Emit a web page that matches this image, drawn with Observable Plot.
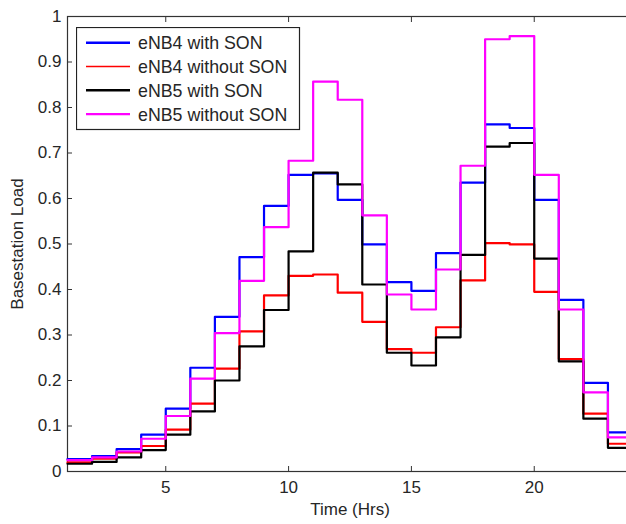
<!DOCTYPE html>
<html>
<head>
<meta charset="utf-8">
<script src="https://cdn.jsdelivr.net/npm/d3@7"></script>
<script src="https://cdn.jsdelivr.net/npm/@observablehq/plot@0.6"></script>
<style>
  html, body { margin: 0; padding: 0; background: white; overflow: hidden; }
  #wrap { position: relative; width: 626px; height: 524px; overflow: hidden; }
  #legend { position: absolute; left: 76px; top: 27px; }
</style>
</head>
<body>
<div id="wrap"></div>
<script>
// ---- data ----
const hours = [1,2,3,4,5,6,7,8,9,10,11,12,13,14,15,16,17,18,19,20,21,22,23,24];
const eNB4WithSON    = [0.027,0.034,0.049,0.081,0.138,0.228,0.340,0.471,0.584,0.652,0.655,0.597,0.499,0.416,0.397,0.480,0.635,0.763,0.755,0.597,0.377,0.195,0.086,0.086];
const eNB4WithoutSON = [0.020,0.028,0.042,0.056,0.092,0.149,0.226,0.308,0.387,0.430,0.433,0.393,0.329,0.269,0.261,0.317,0.420,0.502,0.499,0.395,0.247,0.127,0.061,0.061];
const eNB5WithSON    = [0.017,0.021,0.031,0.047,0.081,0.132,0.200,0.275,0.355,0.484,0.657,0.631,0.411,0.261,0.233,0.295,0.476,0.714,0.722,0.468,0.242,0.116,0.052,0.052];
const eNB5WithoutSON = [0.025,0.031,0.044,0.072,0.122,0.204,0.304,0.419,0.537,0.683,0.857,0.817,0.563,0.389,0.356,0.444,0.672,0.950,0.957,0.652,0.356,0.174,0.075,0.075];

const seriesNames  = ["eNB4 with SON", "eNB4 without SON", "eNB5 with SON", "eNB5 without SON"];
const seriesValues = [eNB4WithSON, eNB4WithoutSON, eNB5WithSON, eNB5WithoutSON];
const seriesColors = ["#0000ff", "#ff0000", "#000000", "#ff00ff"];

const xTicks = [5, 10, 15, 20];
const yTicks = [0, 0.1, 0.2, 0.3, 0.4, 0.5, 0.6, 0.7, 0.8, 0.9, 1];
const yTickLabels = ["0", "0.1", "0.2", "0.3", "0.4", "0.5", "0.6", "0.7", "0.8", "0.9", "1"];

const xLabel = "Time (Hrs)";
const yLabel = "Basestation Load";

// ---- build ----
const rows = [];
seriesNames.forEach((name, i) => {
  hours.forEach((h, j) => rows.push({series: name, hour: h, load: seriesValues[i][j]}));
});

const textColor = "#262626";
const font = "'Liberation Sans', Arial, sans-serif";

const chart = Plot.plot({
  width: 626,
  height: 524,
  marginLeft: 67,
  marginTop: 16,
  marginBottom: 53,
  marginRight: -6,
  x: {domain: [1, 24]},
  y: {domain: [0, 1]},
  color: {domain: seriesNames, range: seriesColors},
  style: {fontFamily: font, fontSize: "17px", color: textColor, background: "white", overflow: "hidden"},
  marks: [
    Plot.axisX({anchor: "bottom", ticks: xTicks, tickSize: -5, tickPadding: 14, stroke: "#333",
      label: xLabel, labelAnchor: "center", labelArrow: "none", labelOffset: 43, fontSize: 17}),
    Plot.axisX({anchor: "top", ticks: xTicks, tickSize: -5, tickFormat: () => "", label: null, stroke: "#333"}),
    Plot.axisY({anchor: "left", ticks: yTicks, tickSize: -5, tickPadding: 11, stroke: "#333",
      tickFormat: d => yTickLabels[yTicks.indexOf(d)],
      label: yLabel, labelAnchor: "center", labelArrow: "none", labelOffset: 57, fontSize: 17}),
    Plot.axisY({anchor: "right", ticks: yTicks, tickSize: -6, tickFormat: () => "", label: null, stroke: "#333"}),
    Plot.frame({stroke: "#333", strokeWidth: 1.2}),
    ...seriesNames.map(name =>
      Plot.line(rows.filter(r => r.series === name), {
        x: "hour", y: "load", stroke: "series", curve: "step-after", strokeWidth: 2.2
      })
    )
  ]
});

const wrap = document.getElementById("wrap");
wrap.appendChild(chart);

// ---- legend ----
const lg = d3.select(wrap).append("svg")
  .attr("id", "legend")
  .attr("width", 225).attr("height", 104)
  .style("font-family", font).style("font-size", "17.8px");
lg.append("rect").attr("x", 0.5).attr("y", 0.5).attr("width", 223).attr("height", 102)
  .attr("fill", "white").attr("stroke", "#222").attr("stroke-width", 1.2);
seriesNames.forEach((name, i) => {
  const cy = 15.7 + i * 23.8;
  lg.append("line").attr("x1", 10).attr("x2", 54).attr("y1", cy).attr("y2", cy)
    .attr("stroke", seriesColors[i]).attr("stroke-width", i === 1 ? 1.4 : 2.4);
  lg.append("text").attr("x", 62).attr("y", cy).attr("dy", "0.36em")
    .attr("fill", textColor).text(name);
});
</script>
</body>
</html>
